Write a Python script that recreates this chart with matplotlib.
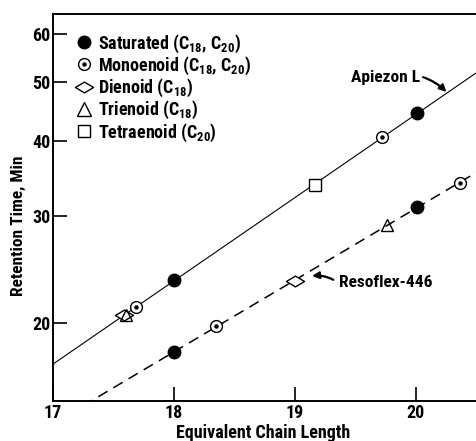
import numpy as np
import matplotlib
matplotlib.use("Agg")
import matplotlib.pyplot as plt
from matplotlib.lines import Line2D
from matplotlib.legend_handler import HandlerTuple
from matplotlib.path import Path

FONT = 'Roboto Condensed'
plt.rcParams['font.family'] = [FONT, 'DejaVu Sans']
plt.rcParams['font.weight'] = 'bold'
plt.rcParams['mathtext.fontset'] = 'custom'
plt.rcParams['mathtext.rm'] = FONT + ':bold'
plt.rcParams['mathtext.it'] = FONT + ':bold'
plt.rcParams['mathtext.bf'] = FONT + ':bold'

# ---- data (ECL, retention time in min) ----
apiezon_sat_x = [18.0, 20.01]
apiezon_sat_y = [23.55, 44.4]
apiezon_mono_x = [17.69, 19.72]
apiezon_mono_y = [21.3, 40.6]
apiezon_di_x = [17.59]
apiezon_di_y = [20.6]
apiezon_tri_x = [17.60]
apiezon_tri_y = [20.6]
apiezon_tetra_x = [19.165]
apiezon_tetra_y = [33.8]

resoflex_sat_x = [18.0, 20.01]
resoflex_sat_y = [17.9, 31.1]
resoflex_mono_x = [18.35, 20.36]
resoflex_mono_y = [19.8, 34.1]
resoflex_di_x = [19.0]
resoflex_di_y = [23.46]
resoflex_tri_x = [19.76]
resoflex_tri_y = [29.0]

x_ticks = [17, 18, 19, 20]
y_ticks = [20, 30, 40, 50, 60]

legend_labels = [r'Saturated (C$_{18}$, C$_{20}$)',
                 r'Monoenoid (C$_{18}$, C$_{20}$)',
                 r'Dienoid (C$_{18}$)',
                 r'Trienoid (C$_{18}$)',
                 r'Tetraenoid (C$_{20}$)']

fig = plt.figure(figsize=(4.77, 4.41), dpi=100)
ax = fig.add_axes([53/477, 1-401/441, (476-53)/477, (401-14)/441])
ax.set_yscale('log')
ax.set_xlim(17, 20.496)
ax.set_ylim(14.87, 64.8)

diamond = Path([(-1, 0), (0, 0.6), (1, 0), (0, -0.6), (-1, 0)],
               [Path.MOVETO, Path.LINETO, Path.LINETO, Path.LINETO, Path.CLOSEPOLY])

# fitted lines
xx = np.array([17.0, 20.6])
ap_x = np.array(apiezon_sat_x + apiezon_mono_x + apiezon_di_x + apiezon_tetra_x)
ap_y = np.array(apiezon_sat_y + apiezon_mono_y + apiezon_di_y + apiezon_tetra_y)
p = np.polyfit(ap_x, np.log(ap_y), 1)
ax.plot(xx, np.exp(np.polyval(p, xx)), color='black', lw=0.8, zorder=1)
rs_x = np.array(resoflex_sat_x + resoflex_mono_x + resoflex_di_x + resoflex_tri_x)
rs_y = np.array(resoflex_sat_y + resoflex_mono_y + resoflex_di_y + resoflex_tri_y)
q = np.polyfit(rs_x, np.log(rs_y), 1)
ax.plot(xx, np.exp(np.polyval(q, xx)), color='black', lw=1.1, ls=(0, (7, 4.5)), zorder=1)

ms = 9
dms = 13
def sat(x, y):
    ax.plot(x, y, 'o', ms=ms, color='black', ls='none', zorder=3)
def mono(x, y):
    ax.plot(x, y, 'o', ms=ms-0.5, mfc='white', mec='black', mew=1.0, ls='none', zorder=3)
    ax.plot(x, y, 'o', ms=2.2, color='black', ls='none', zorder=4)
def di(x, y):
    ax.plot(x, y, marker=diamond, ms=dms, mfc='white', mec='black', mew=1.0, ls='none', zorder=3)
def tri(x, y):
    ax.plot(x, y, '^', ms=ms, mfc='none', mec='black', mew=1.0, ls='none', zorder=3)
def tetra(x, y):
    ax.plot(x, y, 's', ms=ms, mfc='white', mec='black', mew=1.0, ls='none', zorder=3)

sat(apiezon_sat_x, apiezon_sat_y); mono(apiezon_mono_x, apiezon_mono_y)
di(apiezon_di_x, apiezon_di_y); tri(apiezon_tri_x, apiezon_tri_y); tetra(apiezon_tetra_x, apiezon_tetra_y)
sat(resoflex_sat_x, resoflex_sat_y); mono(resoflex_mono_x, resoflex_mono_y)
di(resoflex_di_x, resoflex_di_y); tri(resoflex_tri_x, resoflex_tri_y)

# axes styling
ax.set_xticks(x_ticks)
ax.set_xticklabels([str(t) for t in x_ticks])
ax.set_yticks(y_ticks)
ax.set_yticklabels([str(t) for t in y_ticks])
ax.minorticks_off()
ax.tick_params(axis='both', direction='in', length=10, width=1.2, labelsize=13, pad=2)
for s in ['left', 'bottom', 'top']:
    ax.spines[s].set_linewidth(1.4)
ax.spines['right'].set_linewidth(0.6)
ax.spines['right'].set_color('#888888')
ax.set_xlabel('Equivalent Chain Length', fontsize=13, fontweight='bold')
ax.set_ylabel('Retention Time, Min', fontsize=12.5, fontweight='bold')
ax.xaxis.set_label_coords(0.497, -0.059)
ax.yaxis.set_label_coords(-0.064, 0.452)

# legend
h_sat = Line2D([], [], marker='o', ms=ms, color='black', ls='none')
h_mono = (Line2D([], [], marker='o', ms=ms-0.5, mfc='white', mec='black', ls='none'),
          Line2D([], [], marker='o', ms=2.2, color='black', ls='none'))
h_di = Line2D([], [], marker=diamond, ms=dms, mfc='white', mec='black', ls='none')
h_tri = Line2D([], [], marker='^', ms=ms+1, mfc='none', mec='black', ls='none')
h_tetra = Line2D([], [], marker='s', ms=ms, mfc='white', mec='black', ls='none')
ax.legend([h_sat, h_mono, h_di, h_tri, h_tetra], legend_labels,
          handler_map={tuple: HandlerTuple(ndivide=1, pad=0)},
          loc='upper left', bbox_to_anchor=(0.022, 0.985), frameon=False,
          fontsize=13, handlelength=1.0, handletextpad=0.25, labelspacing=0.0,
          borderaxespad=0.3)

# annotations
ax.annotate('Apiezon L', xy=(20.26, 48.0), xytext=(19.75, 50.9),
            ha='center', va='center', fontsize=12.5, fontweight='bold',
            arrowprops=dict(arrowstyle='-|>', color='black', lw=1.6,
                            shrinkA=30, shrinkB=1, mutation_scale=10,
                            connectionstyle='arc3,rad=-0.3'))
ax.annotate('Resoflex-446', xy=(19.13, 23.9), xytext=(19.36, 23.3),
            ha='left', va='center', fontsize=12.5, fontweight='bold',
            arrowprops=dict(arrowstyle='-|>', color='black', lw=1.6,
                            shrinkA=2, shrinkB=1, mutation_scale=10,
                            relpos=(0, 0.5),
                            connectionstyle='arc3,rad=0.2'))

fig.savefig('out.png', dpi=100)
